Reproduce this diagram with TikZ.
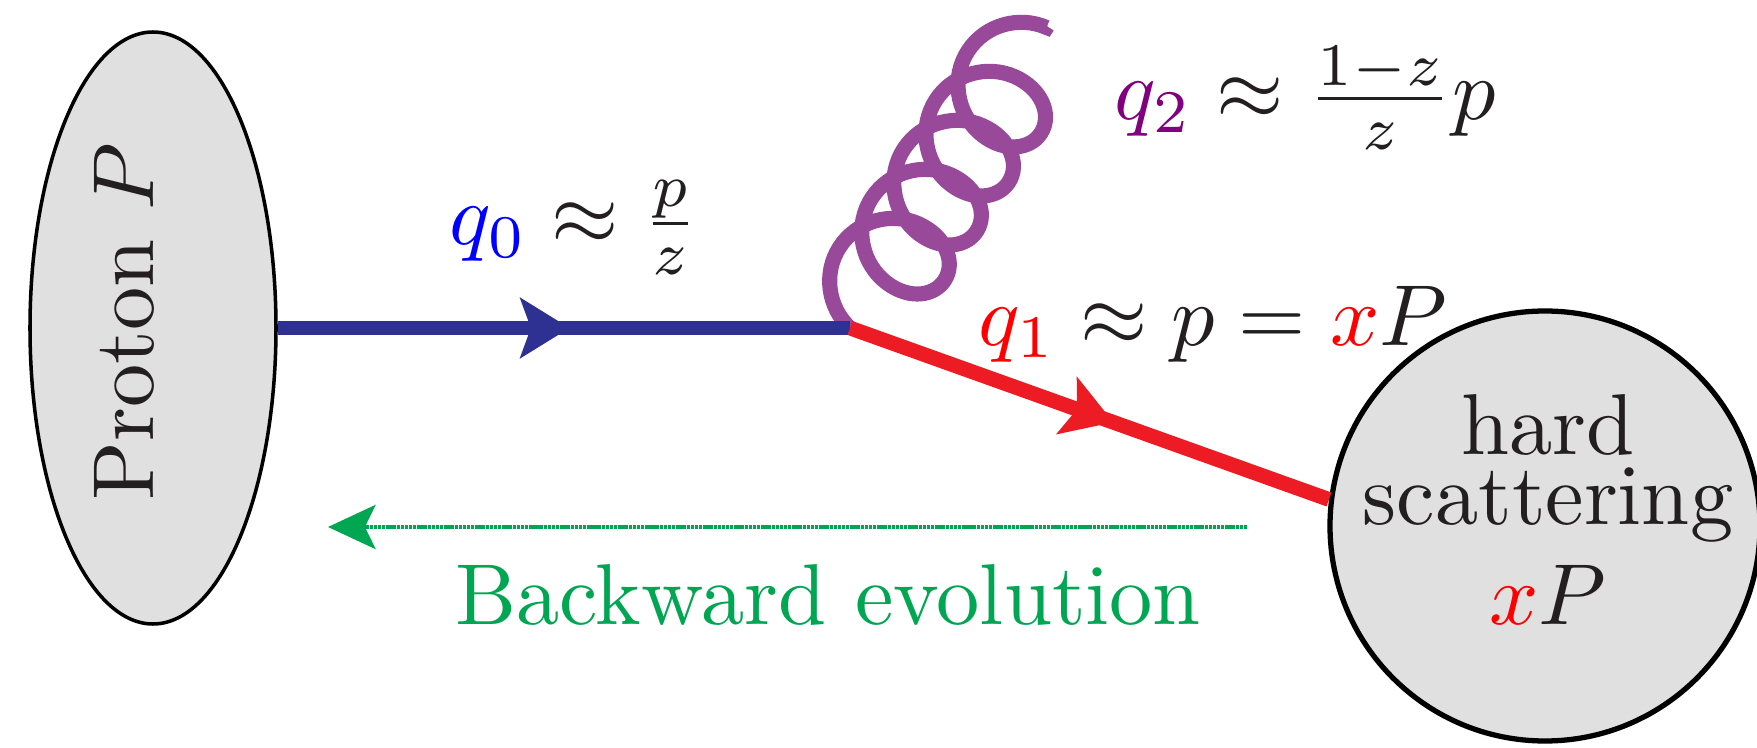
\documentclass[tikz,border=0pt]{standalone}
\usetikzlibrary{arrows.meta,shapes.geometric,decorations.pathmorphing,decorations.markings}

\definecolor{quarkblue}{RGB}{46,49,146}
\definecolor{quarkred}{RGB}{237,28,36}
\definecolor{gluonpurple}{RGB}{152,73,154}
\definecolor{labelpurple}{RGB}{128,0,128}
\definecolor{evolgreen}{RGB}{0,166,81}
\definecolor{blobgray}{RGB}{224,224,224}
\definecolor{ink}{RGB}{35,31,32}

\begin{document}
\begin{tikzpicture}[
  text=ink,
  big/.style={scale=2.46},
  blob/.style={draw=black, fill=blobgray},
  momlabel/.style={big, inner sep=0pt, anchor=base west},
  quark/.style={line width=4.2pt},
  midarrow/.style={postaction={decorate}, decoration={markings,
    mark=at position #1 with {\arrow{Stealth[length=14pt, width=17pt, inset=3pt]}}}},
  gluon/.style={draw=gluonpurple, line width=4.3pt, decorate,
    decoration={coil, amplitude=0.53cm, segment length=0.586cm, aspect=0.9}},
  evol/.style={draw=evolgreen, line width=1.4pt, dash pattern=on 0.9pt off 0.2pt,
    -{Stealth[length=13.5pt, width=12.5pt, inset=3pt]}}
]
\useasboundingbox (0,0) rectangle (17.57,7.47);

% incoming proton and hard process
\node[blob, ellipse, line width=1pt, minimum width=2.46cm, minimum height=5.92cm] (proton) at (1.53,4.19) {};
\node[big, rotate=90, inner sep=0pt] (protonlabel) at (1.24,4.25) {Proton $P$};

\node[blob, circle, line width=1.5pt, minimum size=4.30cm] (hard) at (15.45,2.21) {};
\node[big, align=center, inner sep=0pt, font=\fontsize{10}{8.1}\selectfont] (hardlabel) at (15.48,2.375)
  {hard\\scattering\\[1.7pt]$\textcolor{red}{x}P$};

% splitting vertex
\coordinate (vertex) at (8.50,4.19);
\coordinate (gluonend) at (10.474,7.206);

\draw[gluon] (vertex) -- (gluonend);
\draw[quark, color=quarkblue, midarrow=0.51] (proton) -- (vertex);
\draw[quark, color=quarkred, midarrow=0.55] (vertex) -- (hard.173);

\node[momlabel] (q0label) at (4.48,5.02) {$\textcolor{blue}{q_0}\approx\frac{p}{z}$};
\node[momlabel] (q1label) at (9.77,4.02) {$\textcolor{red}{q_1}\approx p=\textcolor{red}{x}P$};
\node[momlabel] (q2label) at (11.13,6.27) {$\textcolor{labelpurple}{q_2}\approx\frac{1-z}{z}p$};

% evolution direction
\coordinate (evstart) at (12.47,2.20);
\coordinate (evend) at (3.28,2.20);
\draw[evol] (evstart) -- (evend);
\node[big, anchor=base, inner sep=0pt, text=evolgreen] (evlabel) at (8.28,1.23) {Backward evolution};

\end{tikzpicture}
\end{document}
